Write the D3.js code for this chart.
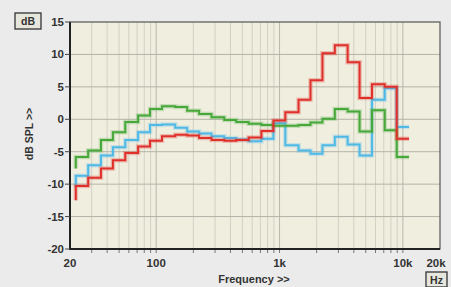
<!DOCTYPE html>
<html>
<head>
<meta charset="utf-8">
<script src="https://cdn.jsdelivr.net/npm/d3@7"></script>
<style>
  body { margin: 0; background: #ebebeb; }
  svg { display: block; }
  text { font-family: "Liberation Sans", Arial, sans-serif; font-weight: bold; fill: #333; }
</style>
</head>
<body>
<svg width="451" height="287"></svg>
<script>
// 1/3-octave band centres (Hz)
const bands = [25, 31.5, 40, 50, 63, 80, 100, 125, 160, 200, 250, 315, 400, 500, 630, 800,
               1000, 1250, 1600, 2000, 2500, 3150, 4000, 5000, 6300, 8000, 10000];

// level of the short riser at the first band edge, then one value per band (dB)
const redStart = -12.5;
const red = [-10.3, -9.0, -7.6, -6.3, -5.2, -4.2, -3.3, -2.6, -2.4, -2.5, -2.9, -3.2, -3.3, -3.2,
             -2.8, -1.8, -0.2, 1.1, 3.0, 6.0, 10.2, 11.4, 8.8, 3.3, 5.4, 5.0, -3.0];
const greenStart = -7.6;
const green = [-5.8, -4.8, -3.2, -2.0, -0.4, 0.6, 1.6, 2.0, 1.9, 1.3, 0.8, 0.3, -0.1, -0.4,
               -0.7, -0.9, -1.0, -1.0, -0.9, -0.5, 0.1, 1.6, 1.2, -1.9, 1.4, -1.7, -5.8];
const blueStart = -10.5;
const blue = [-8.7, -7.1, -5.6, -4.3, -3.2, -2.0, -0.9, -0.8, -1.3, -1.9, -2.2, -2.6, -2.9, -3.1,
              -3.4, -3.0, -0.6, -4.0, -4.8, -5.3, -4.0, -2.7, -3.9, -5.6, 3.0, 4.8, -1.2];

const yTicks = [15, 10, 5, 0, -5, -10, -15, -20];
const xLabels = [{f: 20, t: "20"}, {f: 100, t: "100"}, {f: 1000, t: "1k"}, {f: 10000, t: "10k"}, {f: 20000, t: "20k"}];
const minorGrid = [30, 40, 50, 60, 70, 80, 90, 200, 300, 400, 500, 600, 700, 800, 900,
                   2000, 3000, 4000, 5000, 6000, 7000, 8000, 9000];
const majorGrid = [100, 1000, 10000];

const svg = d3.select("svg");
const pLeft = 70, pRight = 440, pTop = 22, pBottom = 249;

const x = d3.scaleLog().domain([20, 20000]).range([pLeft, pRight]);
const y = d3.scaleLinear().domain([-20, 15]).range([pBottom, pTop]);

// plot background
svg.append("rect")
    .attr("x", pLeft).attr("y", pTop)
    .attr("width", pRight - pLeft).attr("height", pBottom - pTop)
    .attr("fill", "#efeedf");

// grid
svg.append("g").selectAll("line")
    .data(minorGrid).join("line")
    .attr("x1", d => x(d)).attr("x2", d => x(d))
    .attr("y1", pTop).attr("y2", pBottom)
    .attr("stroke", "#d2d1c4").attr("stroke-width", 1);
svg.append("g").selectAll("line")
    .data(majorGrid).join("line")
    .attr("x1", d => x(d)).attr("x2", d => x(d))
    .attr("y1", pTop).attr("y2", pBottom)
    .attr("stroke", "#b9b8ad").attr("stroke-width", 1);
svg.append("g").selectAll("line")
    .data(yTicks.filter(d => d > -20 && d < 15)).join("line")
    .attr("x1", pLeft).attr("x2", pRight)
    .attr("y1", d => y(d)).attr("y2", d => y(d))
    .attr("stroke", "#b4b3a8").attr("stroke-width", 1);

// step curves
function stepPoints(start, vals) {
    const pts = [{f: bands[0] / Math.pow(10, 0.05), v: start}];
    vals.forEach((v, i) => pts.push({f: bands[i] / Math.pow(10, 0.05), v: v}));
    pts.push({f: bands[bands.length - 1] * Math.pow(10, 0.05), v: vals[vals.length - 1]});
    return pts;
}
const line = d3.line().x(d => x(d.f)).y(d => y(d.v)).curve(d3.curveStepAfter);

const series = [
    {start: blueStart, vals: blue, color: "#4fb9e6"},
    {start: greenStart, vals: green, color: "#47a83a"},
    {start: redStart, vals: red, color: "#e0302a"}
];
series.forEach(s => {
    const pts = stepPoints(s.start, s.vals);
    svg.append("path").datum(pts).attr("d", line)
        .attr("fill", "none").attr("stroke", s.color)
        .attr("stroke-opacity", 0.25).attr("stroke-width", 4.5);
    svg.append("path").datum(pts).attr("d", line)
        .attr("fill", "none").attr("stroke", s.color).attr("stroke-width", 2);
});

// frame
svg.append("rect")
    .attr("x", pLeft).attr("y", pTop)
    .attr("width", pRight - pLeft).attr("height", pBottom - pTop)
    .attr("fill", "none").attr("stroke", "#555").attr("stroke-width", 1.2);
svg.append("line").attr("x1", pLeft).attr("x2", pLeft).attr("y1", pTop).attr("y2", pBottom + 1)
    .attr("stroke", "#222").attr("stroke-width", 2);
svg.append("line").attr("x1", pLeft).attr("x2", pRight).attr("y1", pBottom).attr("y2", pBottom)
    .attr("stroke", "#222").attr("stroke-width", 2);

// y ticks and labels
svg.append("g").selectAll("line")
    .data(yTicks).join("line")
    .attr("x1", pLeft - 5).attr("x2", pLeft)
    .attr("y1", d => y(d)).attr("y2", d => y(d))
    .attr("stroke", "#444");
svg.append("g").selectAll("text")
    .data(yTicks).join("text")
    .attr("x", pLeft - 6).attr("y", d => y(d) + 4)
    .attr("text-anchor", "end").attr("font-size", 11.5)
    .text(d => d);

// x minor ticks below axis
svg.append("g").selectAll("line")
    .data(minorGrid.concat(majorGrid)).join("line")
    .attr("x1", d => x(d)).attr("x2", d => x(d))
    .attr("y1", pBottom + 1).attr("y2", pBottom + 4)
    .attr("stroke", "#777");

// x labels
svg.append("g").selectAll("text")
    .data(xLabels).join("text")
    .attr("x", d => d.f === 20000 ? x(d.f) - 4 : x(d.f))
    .attr("y", 267)
    .attr("text-anchor", "middle").attr("font-size", 11.5)
    .text(d => d.t);

// axis titles
svg.append("text")
    .attr("x", 254).attr("y", 283)
    .attr("text-anchor", "middle").attr("font-size", 11)
    .text("Frequency >>");
svg.append("text")
    .attr("transform", "translate(33,134) rotate(-90)")
    .attr("text-anchor", "middle").attr("font-size", 10.5)
    .text("dB SPL >>");

// unit boxes
function unitBox(bx, by, w, h, label) {
    svg.append("rect").attr("x", bx).attr("y", by).attr("width", w).attr("height", h)
        .attr("fill", "#e6e6dc").attr("stroke", "#333").attr("stroke-width", 1.3);
    svg.append("text").attr("x", bx + w / 2).attr("y", by + h / 2 + 4)
        .attr("text-anchor", "middle").attr("font-size", 10.5).text(label);
}
unitBox(15, 13, 26, 16, "dB");
unitBox(426, 272, 21, 15, "Hz");
</script>
</body>
</html>
